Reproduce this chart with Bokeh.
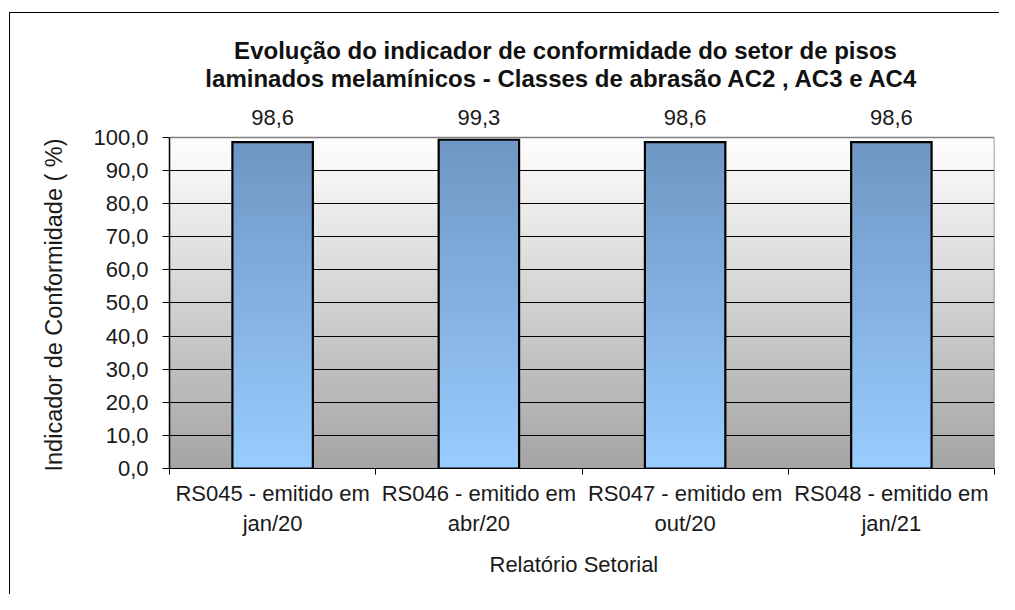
import numpy as np
from bokeh.plotting import figure
from bokeh.models import (ColumnDataSource, FixedTicker, LabelSet, Label, Range1d, Title)
from bokeh.core.properties import value
from bokeh.embed import file_html
from bokeh.resources import INLINE

# ---------------- data ----------------
categories = [
    "RS045 - emitido em\njan/20",
    "RS046 - emitido em\nabr/20",
    "RS047 - emitido em\nout/20",
    "RS048 - emitido em\njan/21",
]
values = [98.6, 99.3, 98.6, 98.6]
value_labels = ["98,6", "99,3", "98,6", "98,6"]
y_ticks = [0, 10, 20, 30, 40, 50, 60, 70, 80, 90, 100]
y_tick_labels = ["0,0", "10,0", "20,0", "30,0", "40,0", "50,0",
                 "60,0", "70,0", "80,0", "90,0", "100,0"]
title_lines = [
    "Evolução do indicador de conformidade do setor de pisos",
    "laminados melamínicos  - Classes de abrasão AC2 , AC3 e AC4",
]
y_title = "Indicador de Conformidade ( %)"
x_title = "Relatório Setorial"

# ---------------- style ----------------
FONT = "Liberation Sans"
TXT = "#1a1a1a"
BAR_W = 0.39
Y_HEADROOM = 32.3   # extra room above the axis for labels and title

n = len(categories)
centers = np.arange(n) + 0.5
bounds = np.arange(n + 1).astype(float)
y_min, y_max = y_ticks[0], y_ticks[-1]


def lerp_hex(c0, c1, t):
    a = np.array([int(c0[i:i + 2], 16) for i in (1, 3, 5)], float)
    b = np.array([int(c1[i:i + 2], 16) for i in (1, 3, 5)], float)
    c = np.round(a + (b - a) * t).astype(int)
    return "#%02x%02x%02x" % tuple(c)


p = figure(width=999, height=594, output_backend="svg", toolbar_location=None,
           x_range=Range1d(bounds[0], bounds[-1]),
           y_range=Range1d(y_min, y_max + Y_HEADROOM),
           min_border_left=169, min_border_right=5,
           min_border_top=30, min_border_bottom=126)
# outer chart border (left and top edges only, like the original)
p.styles = {"box-shadow": "inset 9px 12px 0px 0px #ffffff, "
                          "inset 10px 13px 0px 0px #000000"}
p.background_fill_color = "white"
p.border_fill_color = None
p.outline_line_color = None

# plot-area gradient background (white -> gray)
NB = 80
edges = np.linspace(y_min, y_max, NB + 1)
bg_cols = [lerp_hex("#a4a4a4", "#ffffff", (i + 0.5) / NB) for i in range(NB)]
bg_top = edges[1:] + np.where(np.arange(NB) < NB - 1, 0.6, 0.0)
bg = p.quad(left=bounds[0], right=bounds[-1], bottom=edges[:-1], top=bg_top,
            fill_color=bg_cols, line_color=None)
bg.level = "image"

# grid
p.xgrid.visible = False
p.ygrid.ticker = FixedTicker(ticks=y_ticks[:-1])
p.ygrid.grid_line_color = "black"
p.ygrid.grid_line_width = 1

# plot area top and right edges (gray)
p.segment(x0=[bounds[0], bounds[-1]], y0=[y_max, y_min],
          x1=[bounds[-1], bounds[-1]], y1=[y_max, y_max],
          line_color="#808080", line_width=1.5)

# bars with vertical gradient
NS = 60
ql, qr, qb, qt, qc = [], [], [], [], []
for cx, v in zip(centers, values):
    e = np.linspace(0, v, NS + 1)
    for i in range(NS):
        ql.append(cx - BAR_W / 2)
        qr.append(cx + BAR_W / 2)
        qb.append(e[i])
        qt.append(e[i + 1] + (0 if i == NS - 1 else 0.6))
        qc.append(lerp_hex("#99ccff", "#6f96c3", (i + 0.5) / NS))
p.quad(left=ql, right=qr, bottom=qb, top=qt, fill_color=qc, line_color=None)
p.vbar(x=centers, top=values, bottom=0, width=BAR_W, fill_color=None,
       line_color="black", line_width=2.2, line_join="miter")

# value labels
src = ColumnDataSource(dict(x=centers, y=[y_max] * n, t=value_labels))
p.add_layout(LabelSet(x="x", y="y", text="t", source=src, y_offset=12,
                      text_align="center", text_baseline="alphabetic",
                      text_font=value(FONT), text_font_size="22px",
                      text_color=TXT))

# x axis
xa = p.xaxis[0]
xa.ticker = FixedTicker(ticks=list(centers), minor_ticks=list(bounds))
xa.major_label_overrides = {float(c): lab for c, lab in zip(centers, categories)}
xa.major_tick_out = 0
xa.major_tick_in = 0
xa.major_tick_line_color = None
xa.minor_tick_out = 6
xa.minor_tick_in = 0
xa.minor_tick_line_color = "black"
xa.axis_line_color = "black"
xa.major_label_standoff = 6
xa.major_label_text_font = FONT
xa.major_label_text_font_size = "22px"
xa.major_label_text_color = TXT

# x axis title (as a below-title so it can be placed like the original)
p.add_layout(Title(text=x_title, align="left", offset=320, standoff=26,
                   vertical_align="top", text_font=FONT, text_font_size="22px",
                   text_font_style="normal", text_color=TXT), "below")

# y axis
ya = p.yaxis[0]
ya.ticker = FixedTicker(ticks=y_ticks)
ya.bounds = (y_min, y_max)
ya.major_label_overrides = {float(t): lab for t, lab in zip(y_ticks, y_tick_labels)}
ya.major_tick_out = 7
ya.major_tick_in = 0
ya.minor_tick_line_color = None
ya.axis_line_color = "black"
ya.axis_line_width = 1.5
ya.major_tick_line_color = "black"
ya.major_label_standoff = 14
ya.major_label_text_font = FONT
ya.major_label_text_font_size = "22px"
ya.major_label_text_color = TXT

# y axis title (left-title, centred on the 0-100 axis like the original)
p.add_layout(Title(text=y_title, align="left", offset=-3, standoff=48,
                   vertical_align="bottom", text_font=FONT,
                   text_font_size="23.5px", text_font_style="normal",
                   text_color=TXT), "left")

# chart title (two lines)
for line, yy in zip(title_lines, [418, 390]):
    p.add_layout(Label(x=396, y=yy, x_units="screen", y_units="screen",
                       text=line, text_align="center", text_baseline="alphabetic",
                       text_font=FONT, text_font_size="24px",
                       text_font_style="bold", text_color="#111111"))

open("out.html", "w").write(file_html(p, INLINE))
